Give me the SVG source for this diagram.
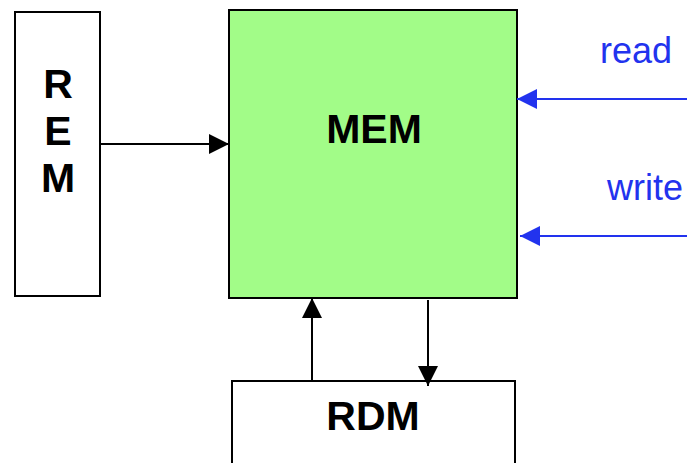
<svg xmlns="http://www.w3.org/2000/svg" width="687" height="463" viewBox="0 0 687 463">
<style>
.box{fill:#fff;stroke:#000;stroke-width:2}
.mem{fill:#a2fc88;stroke:#000;stroke-width:2}
.lbl{font-family:"Liberation Sans",Arial,sans-serif;font-weight:bold;font-size:41px;fill:#000;text-anchor:middle}
.sig{font-family:"Liberation Sans",Arial,sans-serif;font-size:36px;fill:#2233ee}
.k{stroke:#000;stroke-width:2;fill:none}
.b{stroke:#2233ee;stroke-width:2;fill:none}
</style>
<defs>
<marker id="ak" markerWidth="20" markerHeight="20" refX="20" refY="10" orient="auto" markerUnits="userSpaceOnUse"><path d="M0,0 L20,10 L0,20 Z" fill="#000"/></marker>
<marker id="ab" markerWidth="20" markerHeight="20" refX="20" refY="10" orient="auto" markerUnits="userSpaceOnUse"><path d="M0,0 L20,10 L0,20 Z" fill="#2233ee"/></marker>
</defs>
<g id="REM"><rect class="box" x="15" y="12" width="85" height="284"/>
<text class="lbl" x="58" y="98">R</text><text class="lbl" x="58" y="145">E</text><text class="lbl" x="58" y="192">M</text></g>
<g id="MEM"><rect class="mem" x="229" y="10" width="288" height="288"/>
<text class="lbl" x="374" y="143">MEM</text></g>
<g id="RDM"><rect class="box" x="232" y="381" width="283" height="90"/>
<text class="lbl" x="373" y="430">RDM</text></g>
<g id="signals"><text class="sig" x="600" y="63">read</text><text class="sig" x="607" y="200">write</text></g>
<g id="connectors">
<line class="k" x1="101" y1="144" x2="229" y2="144" marker-end="url(#ak)"/>
<line class="k" x1="312" y1="381" x2="312" y2="298" marker-end="url(#ak)"/>
<line class="k" x1="428" y1="300" x2="428" y2="386" marker-end="url(#ak)"/>
<line class="b" x1="687" y1="99" x2="517" y2="99" marker-end="url(#ab)"/>
<line class="b" x1="687" y1="236" x2="520" y2="236" marker-end="url(#ab)"/>
</g>
</svg>
